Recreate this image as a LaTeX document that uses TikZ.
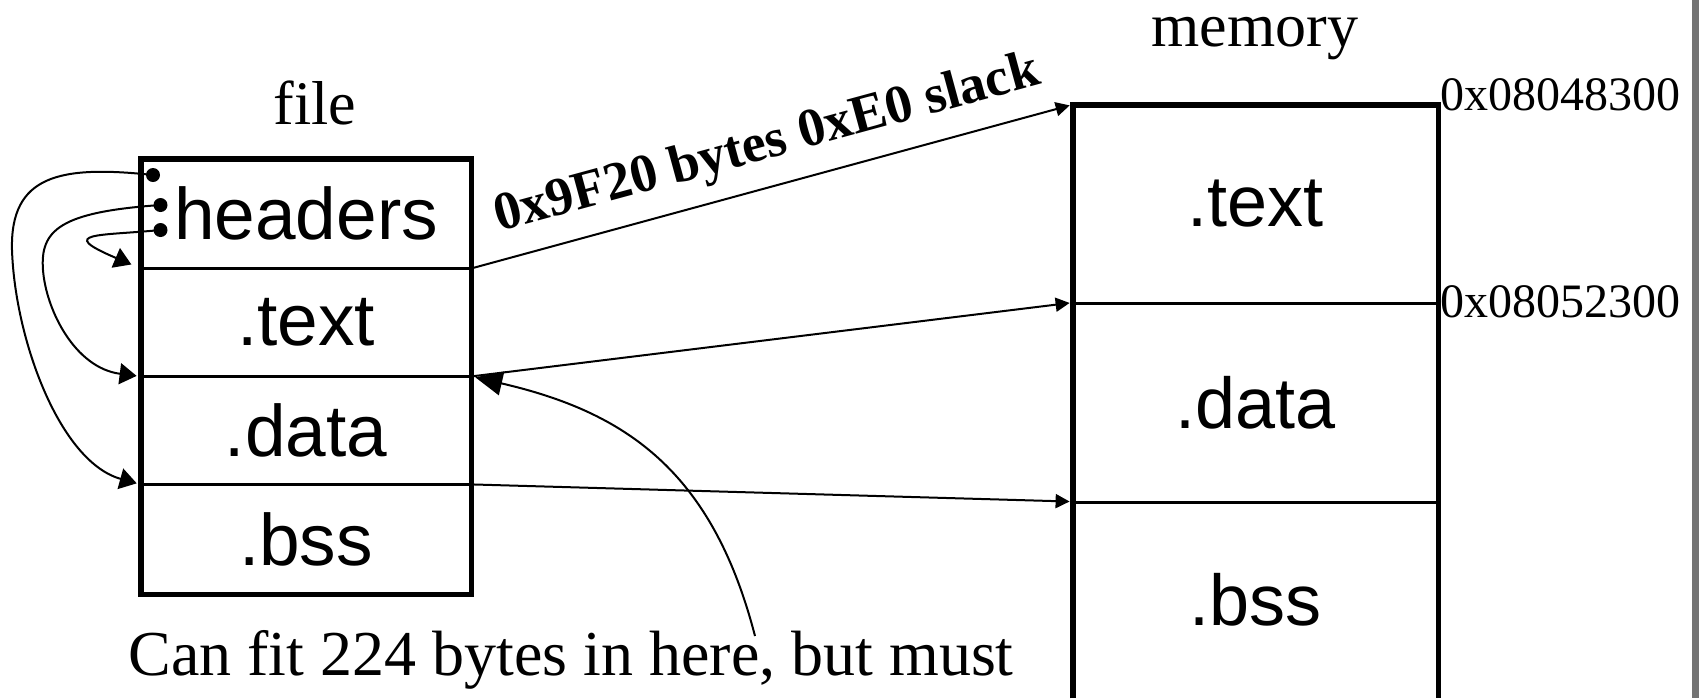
\documentclass[tikz,border=0pt]{standalone}
\usepackage{fontspec}
\setmainfont{Liberation Serif}
\setsansfont{Liberation Sans}
\usetikzlibrary{arrows.meta}
\begin{document}
\begin{tikzpicture}[x=0.5pt,y=-0.5pt,
  sect/.style={inner sep=0pt, minimum width=165pt, font=\sffamily\fontsize{36.5}{40}\selectfont},
  msect/.style={inner sep=0pt, minimum width=182.5pt, font=\sffamily\fontsize{36}{40}\selectfont},
  frame/.style={line width=2.9pt},
  sepline/.style={line width=1.1pt},
  link/.style={line width=1pt, -{Triangle[length=7pt,width=7pt]}},
  curl/.style={line width=1pt, -{Triangle[length=8.5pt,width=10.5pt]}},
  bigtip/.style={line width=1pt, -{Triangle[length=13.5pt,width=12pt]}},
  dotnode/.style={circle, fill, inner sep=0pt, minimum size=7pt},
  title/.style={anchor=base, inner sep=0pt, font=\fontsize{31}{34}\selectfont},
  addr/.style={anchor=base west, inner sep=0pt, font=\fontsize{24}{28}\selectfont}
]
\useasboundingbox (0,0) rectangle (1699,698);
\fill[white] (0,0) rectangle (1699,698);
\fill[black!55] (1692,0) rectangle (1699,698);

% file box
\node[sect, minimum height=54.5pt] (fH) at (306,213.5) {headers};
\node[sect, minimum height=54pt] (fT) at (306,322) {.text};
\node[sect, minimum height=54pt] (fD) at (306,430) {.data};
\node[sect, minimum height=55pt] (fB) at (306,539) {.bss};
\draw[sepline] (fH.south west) -- (fH.south east);
\draw[sepline] (fT.south west) -- (fT.south east);
\draw[sepline] (fD.south west) -- (fD.south east);
\draw[frame] (fH.north west) rectangle (fB.south east);

% memory box
\node[msect, minimum height=99pt] (mT) at (1255.5,204) {.text};
\node[msect, minimum height=99.5pt] (mD) at (1255.5,402.5) {.data};
\node[msect, minimum height=98pt] (mB) at (1255.5,600) {.bss};
\draw[sepline] (mT.south west) -- (mT.south east);
\draw[sepline] (mD.south west) -- (mD.south east);
\draw[frame] (mB.south west) -- (mT.north west) -- (mT.north east) -- (mB.south east);

% titles and addresses
\node[title] (ftitle) at (315,124) {file};
\node[title] (mtitle) at (1255,46) {memory};
\node[addr] (a1) at (1440,110) {0x08048300};
\node[addr] (a2) at (1440,317) {0x08052300};
\node[anchor=base, inner sep=0pt, font=\fontsize{32}{36}\selectfont] (note) at (571,675) {Can fit 224 bytes in here, but must};

% straight links
\draw[link, shorten >=1.5pt] (fH.south east) -- node[sloped, pos=0.51, anchor=base, yshift=14pt, inner sep=0pt, font=\bfseries\fontsize{27}{30}\selectfont] (lbl) {0x9F20 bytes 0xE0 slack} (mT.north west);
\draw[link, shorten >=1.5pt] (fT.south east) -- (mD.north west);
\draw[link, shorten >=1.5pt] (fD.south east) -- (mB.north west);

% curved note arrow
\coordinate (noteTip) at (755,636);
\draw[bigtip, shorten >=2pt] (noteTip) .. controls (712,470) and (625,412) .. (fT.south east);

% header pointers
\node[dotnode] (d1) at (153,175) {};
\node[dotnode] (d2) at (160.5,205) {};
\node[dotnode] (d3) at (160.5,230) {};
\draw[curl, shorten >=2pt] (d1.center) .. controls (60,165) and (10,175) .. (12,250) .. controls (15,340) and (60,462) .. (fD.south west);
\draw[curl, shorten >=2pt] (d2.center) .. controls (60,212) and (40,230) .. (43,270) .. controls (46,310) and (75,368) .. (fT.south west);
\draw[curl, shorten >=5pt] (d3.center) .. controls (100,236) and (55,232) .. (fH.south west);
\end{tikzpicture}
\end{document}
